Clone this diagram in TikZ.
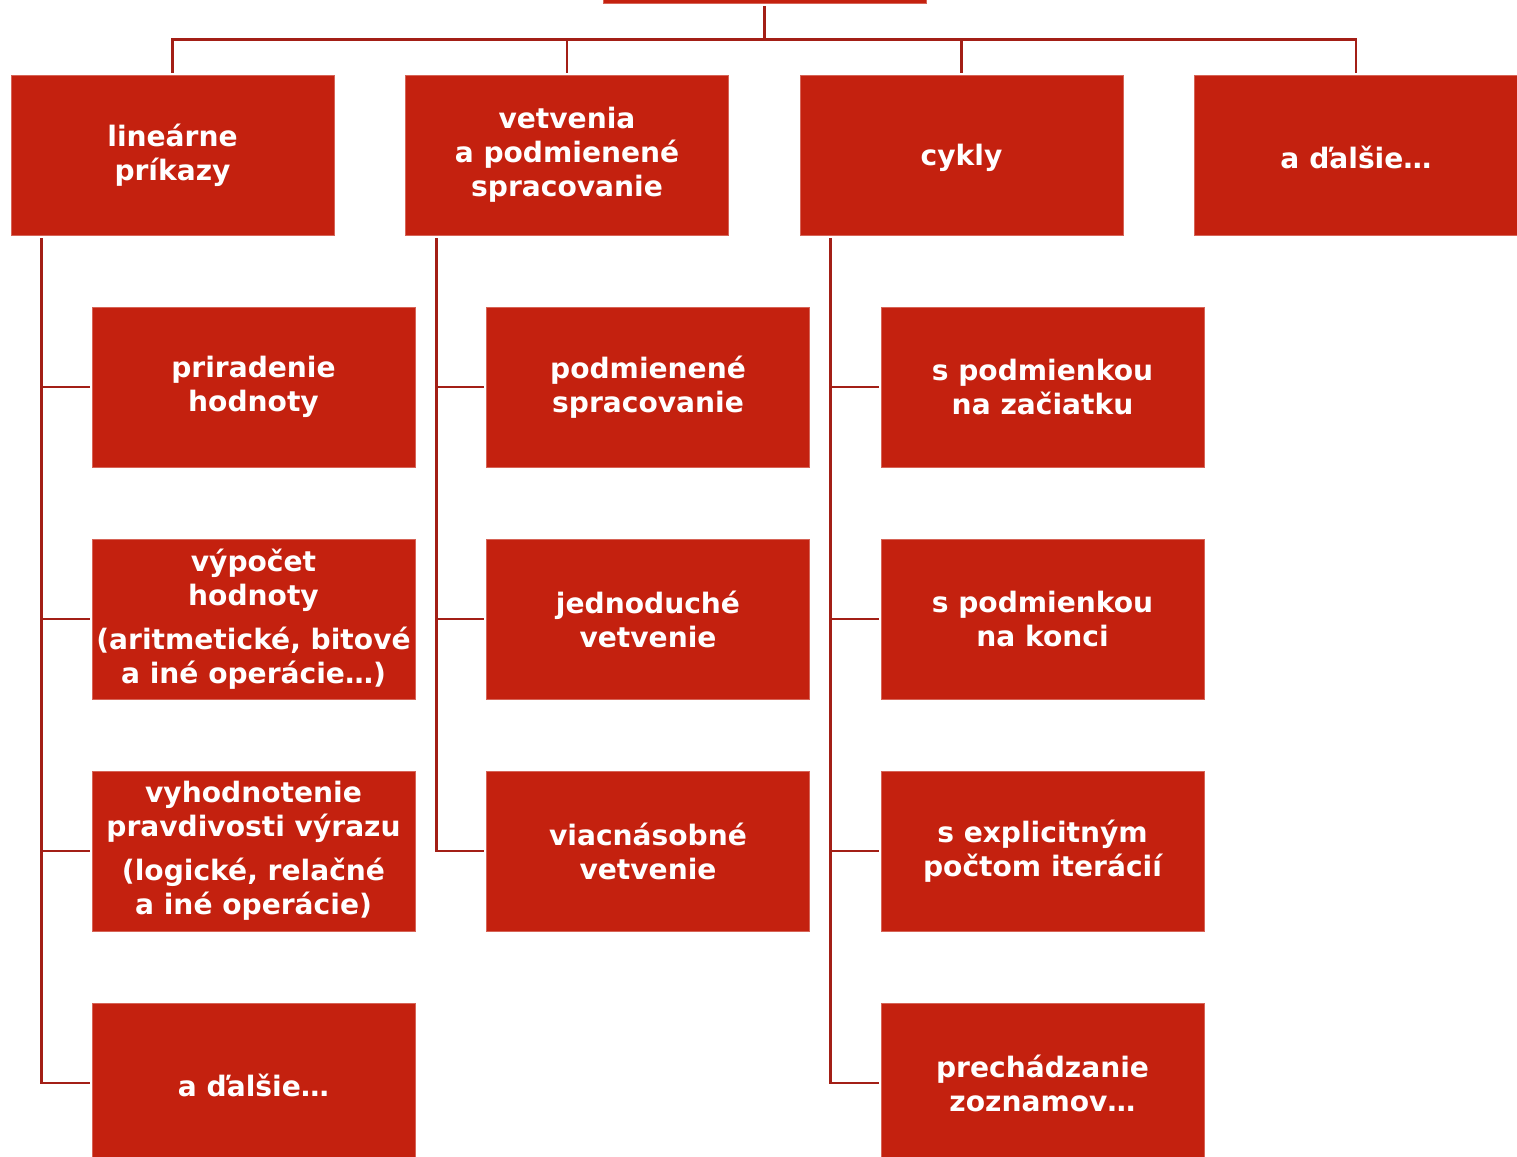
\documentclass[tikz,border=0pt]{standalone}
\usepackage{fontspec}
\setmainfont{DejaVu Sans}
\usepackage{tikz}
\definecolor{cred}{RGB}{196,33,15}
\definecolor{cline}{RGB}{163,31,22}

\begin{document}
\begin{tikzpicture}[node distance=4.64cm,
  box node/.style={rectangle,fill=cred,draw=cred!70!white,line width=0.4pt,
    minimum width=6.46cm,minimum height=3.2cm,inner sep=0pt,align=center,
    text=white,font=\bfseries\fontsize{16}{19.35}\selectfont,
    execute at begin node={\rule{0pt}{15.5pt}}},
  link/.style={draw=cline,line width=1.6pt,shorten <=0.06cm,shorten >=0.04cm}]
  \useasboundingbox (0,0) rectangle (30.34,-23.12);

  \node[box node] (root) at (15.29,1.54) {};
  \node[box node] (lin) [below of=root, xshift=-11.84cm] {lineárne\\príkazy};
  \node[box node] (vet) [right of=lin, xshift=3.25cm] {vetvenia\\a podmienené\\spracovanie};
  \node[box node] (cyk) [right of=vet, xshift=3.25cm] {cykly};
  \node[box node] (dal) [right of=cyk, xshift=3.25cm] {a ďalšie…};

  % linearne prikazy
  \node[box node] (lin1) [below of=lin, xshift=1.62cm] {priradenie\\hodnoty};
  \node[box node] (lin2) [below of=lin1] {výpočet\\hodnoty\\[5.5pt](aritmetické, bitové\\a iné operácie…)};
  \node[box node] (lin3) [below of=lin2] {vyhodnotenie\\pravdivosti výrazu\\[5.5pt](logické, relačné\\a iné operácie)};
  \node[box node] (lin4) [below of=lin3] {a ďalšie…};

  % vetvenia
  \node[box node] (vet1) [below of=vet, xshift=1.62cm] {podmienené\\spracovanie};
  \node[box node] (vet2) [below of=vet1] {jednoduché\\vetvenie};
  \node[box node] (vet3) [below of=vet2] {viacnásobné\\vetvenie};

  % cykly
  \node[box node] (cyk1) [below of=cyk, xshift=1.62cm] {s podmienkou\\na začiatku};
  \node[box node] (cyk2) [below of=cyk1] {s podmienkou\\na konci};
  \node[box node] (cyk3) [below of=cyk2] {s explicitným\\počtom iterácií};
  \node[box node] (cyk4) [below of=cyk3] {prechádzanie\\zoznamov…};

  \draw[link] (root.south) -- ++(0,-0.72) -| (lin);
  \draw[link] (root.south) -- ++(0,-0.72) -| (vet);
  \draw[link] (root.south) -- ++(0,-0.72) -| (cyk);
  \draw[link] (root.south) -- ++(0,-0.72) -| (dal);

  \foreach \p/\c in {lin/lin1,lin/lin2,lin/lin3,lin/lin4,
                     vet/vet1,vet/vet2,vet/vet3,
                     cyk/cyk1,cyk/cyk2,cyk/cyk3,cyk/cyk4}
    \draw[link] ([xshift=0.62cm]\p.south west) |- (\c);
\end{tikzpicture}
\end{document}
